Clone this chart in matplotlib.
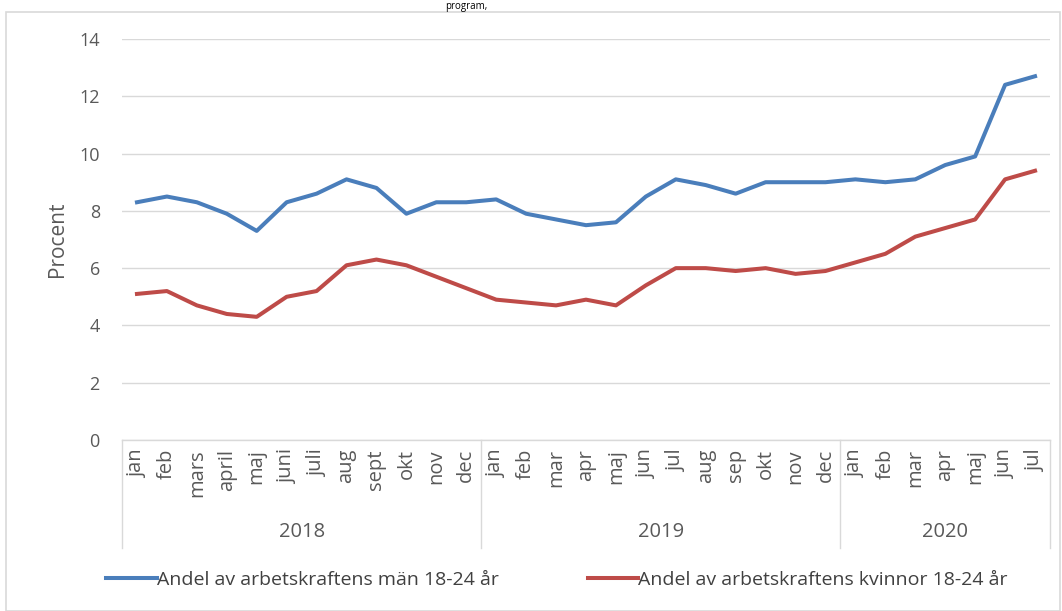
import matplotlib
matplotlib.use("Agg")
import matplotlib.pyplot as plt
import matplotlib.transforms as mtransforms
from matplotlib.patches import Rectangle

# ---- data ----
years = ["2018", "2019", "2020"]
months_2018 = ["jan", "feb", "mars", "april", "maj", "juni", "juli", "aug", "sept", "okt", "nov", "dec"]
months_2019 = ["jan", "feb", "mar", "apr", "maj", "jun", "jul", "aug", "sep", "okt", "nov", "dec"]
months_2020 = ["jan", "feb", "mar", "apr", "maj", "jun", "jul"]
men = [8.3, 8.5, 8.3, 7.9, 7.3, 8.3, 8.6, 9.1, 8.8, 7.9, 8.3, 8.3,
       8.4, 7.9, 7.7, 7.5, 7.6, 8.5, 9.1, 8.9, 8.6, 9.0, 9.0, 9.0,
       9.1, 9.0, 9.1, 9.6, 9.9, 12.4, 12.7]
women = [5.1, 5.2, 4.7, 4.4, 4.3, 5.0, 5.2, 6.1, 6.3, 6.1, 5.7, 5.3,
         4.9, 4.8, 4.7, 4.9, 4.7, 5.4, 6.0, 6.0, 5.9, 6.0, 5.8, 5.9,
         6.2, 6.5, 7.1, 7.4, 7.7, 9.1, 9.4]
label_men = "Andel av arbetskraftens män 18-24 år"
label_women = "Andel av arbetskraftens kvinnor 18-24 år"
yticks = [0, 2, 4, 6, 8, 10, 12, 14]

month_groups = [months_2018, months_2019, months_2020]
months = months_2018 + months_2019 + months_2020
x = list(range(len(months)))

plt.rcParams['font.family'] = ['Open Sans', 'DejaVu Sans']
W, H = 1062, 611
fig = plt.figure(figsize=(W / 100, H / 100), dpi=100)

# outer chart frame
fig.patches.append(Rectangle((6 / W, 0), 1 - 8 / W, 1 - 12 / H, transform=fig.transFigure,
                             fill=False, edgecolor="#D9D9D9", linewidth=1.2))
# partially visible caption text at the very top
fig.text(445 / W, 1 - 1 / H, "program,", fontsize=7, color="black", va="top", ha="left")

left, right = 122 / W, 1050 / W
bottom, top = 1 - 440 / H, 1 - 39 / H
ax = fig.add_axes([left, bottom, right - left, top - bottom])

blue = "#4A7EBB"
red = "#BE4B48"
ax.plot(x, men, color=blue, linewidth=2.9, label=label_men, solid_joinstyle="round")
ax.plot(x, women, color=red, linewidth=2.9, label=label_women, solid_joinstyle="round")

ax.set_xlim(-0.5, len(months) - 0.5)
ax.set_ylim(0, 14)
ax.set_yticks(yticks)
ax.yaxis.grid(True, color="#D9D9D9", linewidth=1.0)
ax.set_axisbelow(True)
ax.tick_params(axis="y", length=0, labelsize=13, labelcolor="#595959", pad=16)
ax.set_xticks([])
for s in ["left", "right", "top"]:
    ax.spines[s].set_visible(False)
ax.spines["bottom"].set_color("#D9D9D9")
ax.spines["bottom"].set_linewidth(1.0)
ax.set_ylabel("Procent", fontsize=15, color="#595959", labelpad=8)

trans = mtransforms.blended_transform_factory(ax.transData, ax.transAxes)
px = 1 / (440 - 39)  # axes fraction per pixel

# month labels
for xi, m in zip(x, months):
    ax.text(xi, -9 * px, m, rotation=90, ha="center", va="top", fontsize=14.5,
            color="#595959", transform=trans)

# year separators and labels
start = 0
seps = [-0.5]
for yr, grp in zip(years, month_groups):
    end = start + len(grp)
    seps.append(end - 0.5)
    ax.text((start + end - 1) / 2, -92 * px, yr, ha="center", va="center", fontsize=14.5,
            color="#595959", transform=trans)
    start = end
for s in seps:
    ax.plot([s, s], [0, -108 * px], color="#D9D9D9", linewidth=1.0, transform=trans, clip_on=False)

fig.legend(loc="center", bbox_to_anchor=(557 / W, 1 - 580 / H), ncol=2, frameon=False,
           fontsize=14, handlelength=2.6, handletextpad=0.0, columnspacing=4.6,
           labelcolor="#404040")

fig.savefig("out.png", dpi=100)
